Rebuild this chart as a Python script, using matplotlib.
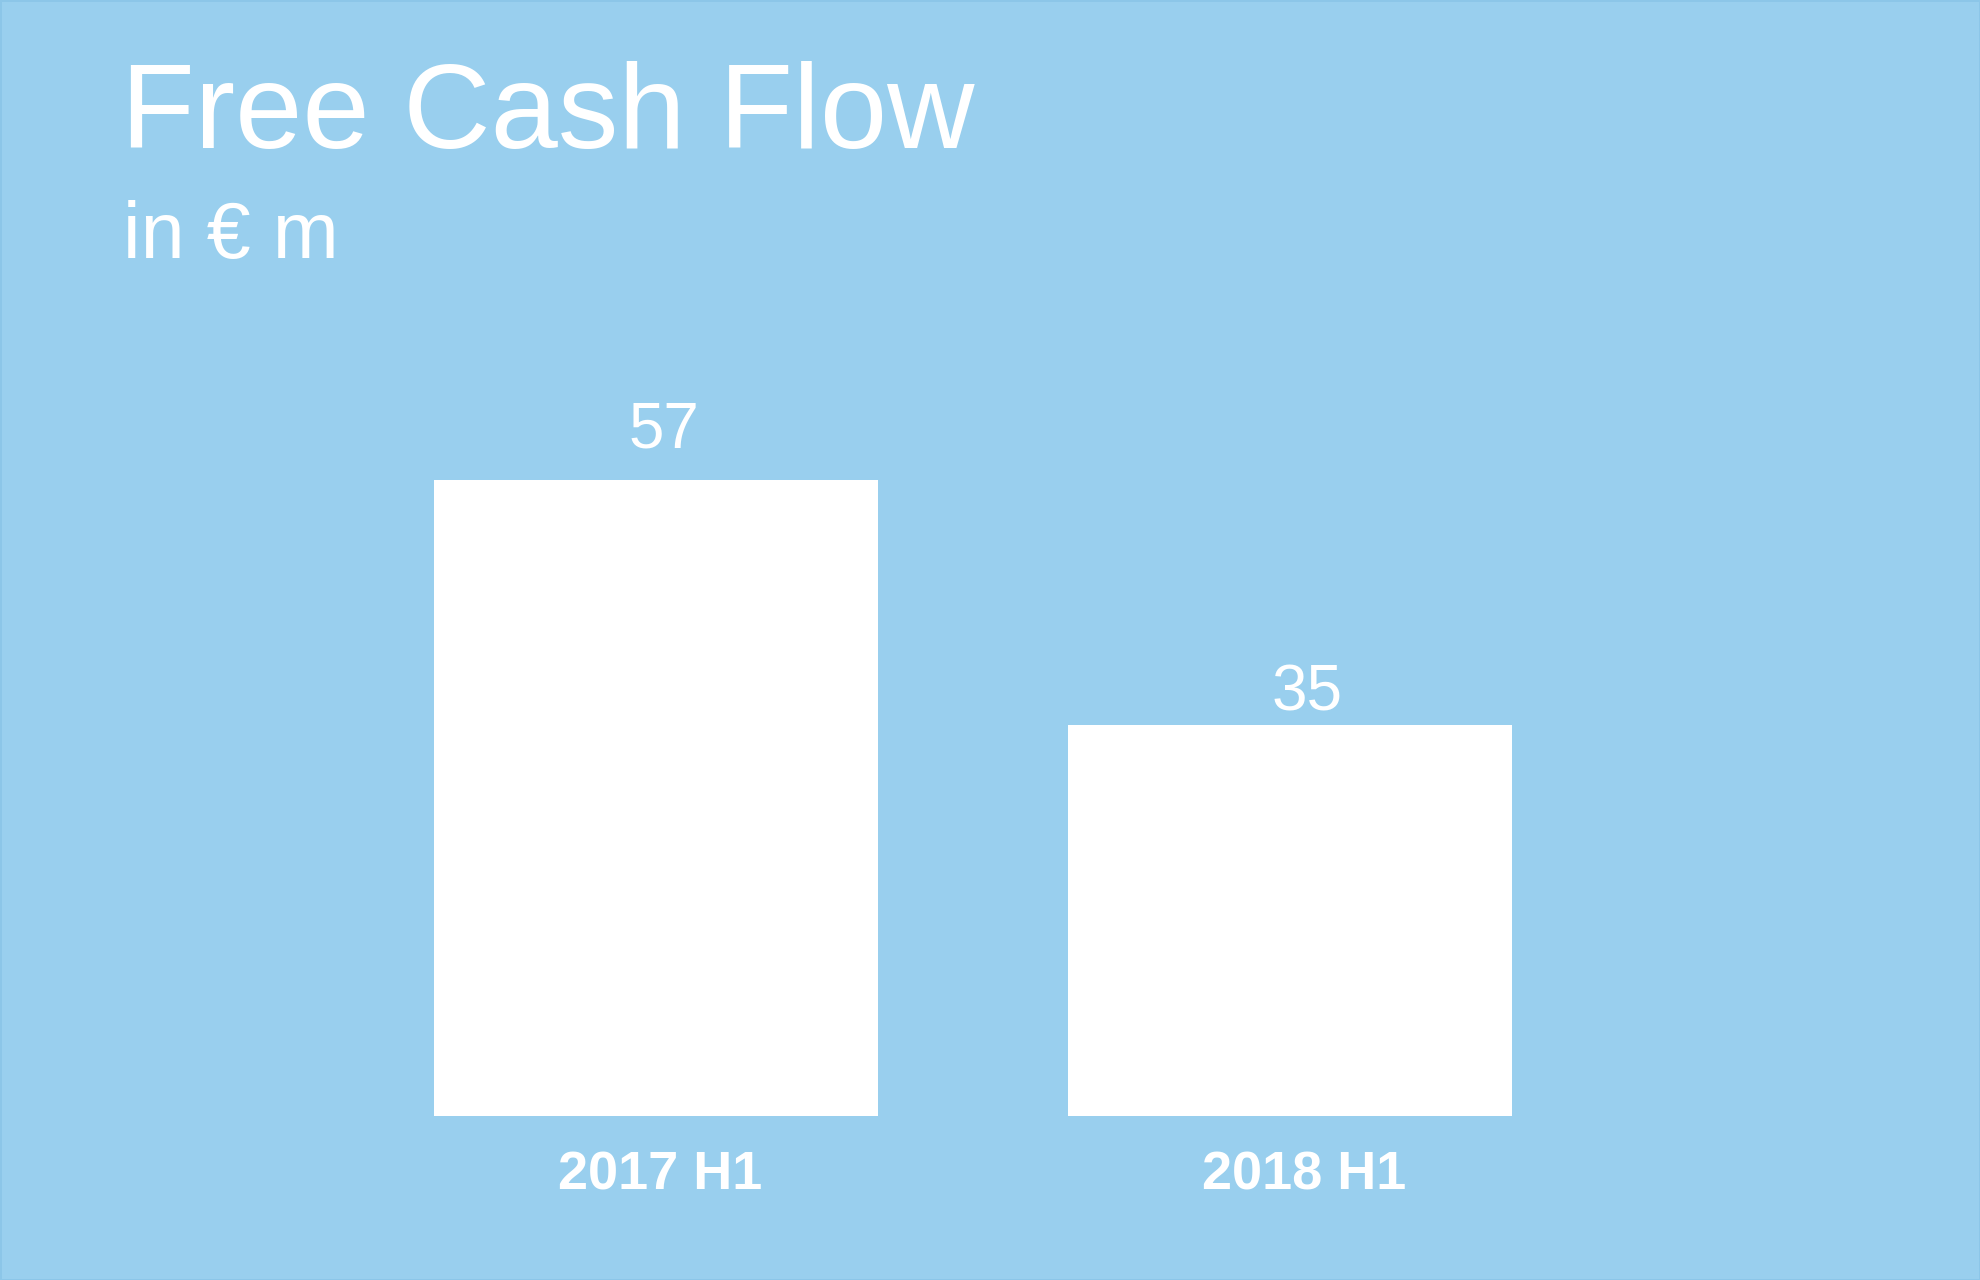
import matplotlib
matplotlib.use("Agg")
import matplotlib.pyplot as plt

categories = ["2017 H1", "2018 H1"]
values = [57, 35]
title = "Free Cash Flow"
subtitle = "in € m"

bg = "#99CFEE"
plt.rcParams['font.family'] = ['Liberation Sans', 'DejaVu Sans']

W, H = 1980, 1280
fig = plt.figure(figsize=(W / 100, H / 100), dpi=100, facecolor=bg,
                 edgecolor="#8CC6E8", linewidth=2)

left = 275.6 / W
width = 1394.8 / W
bottom = 164 / H
height = 893 / H
ax = fig.add_axes([left, bottom, width, height])
ax.set_facecolor(bg)

x = list(range(len(categories)))
bars = ax.bar(x, values, width=0.70, color="white", edgecolor="none")
ax.set_xlim(-0.6, 1.6)
ax.set_ylim(0, 80)

# value labels (per-label nudges in points: dx, dy)
val_nudge = [(6, 23), (12, 11)]
for xi, v, (dx, dy) in zip(x, values, val_nudge):
    ax.annotate(str(v), xy=(xi, v), xytext=(dx, dy), textcoords="offset points",
                ha="center", va="baseline", fontsize=46, color="white")

# category labels
cat_nudge = [(3, -25), (10, -25)]
for xi, c, (dx, dy) in zip(x, categories, cat_nudge):
    ax.annotate(c, xy=(xi, 0), xytext=(dx, dy), textcoords="offset points",
                ha="center", va="top", fontsize=39, fontweight="bold",
                color="white", annotation_clip=False)

ax.set_xticks([])
ax.set_yticks([])
for s in ax.spines.values():
    s.set_visible(False)

fig.text(121 / W, 1 - 148 / H, title, fontsize=87, color="white",
         ha="left", va="baseline")
fig.text(123 / W, 1 - 258 / H, subtitle, fontsize=57, color="white",
         ha="left", va="baseline")

fig.savefig("out.png", dpi=100, facecolor=bg, edgecolor=fig.get_edgecolor())
